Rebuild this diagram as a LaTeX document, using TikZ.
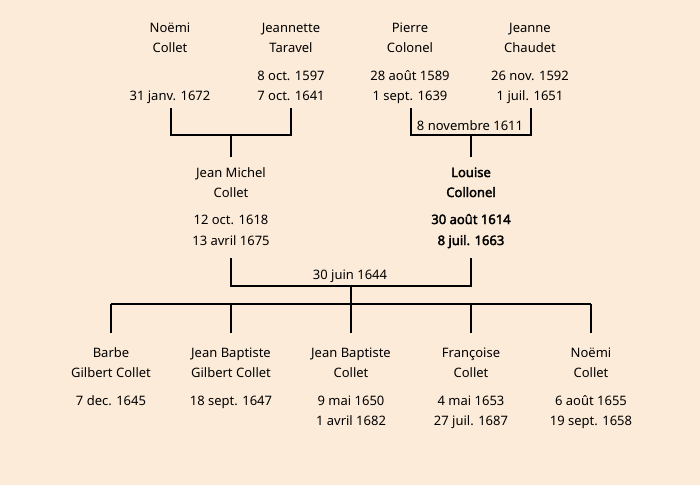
\documentclass[tikz,border=0pt]{standalone}
\usepackage{fontspec}
\setmainfont{Noto Sans}
\newfontfamily\fbold[FakeBold=2.5]{Noto Sans}
\definecolor{bg}{HTML}{FCEBD8}
\begin{document}
\begin{tikzpicture}[x=1pt,y=-1pt,
  txt/.style={anchor=base, inner sep=0pt, font=\fontsize{13}{15}\selectfont},
  btxt/.style={anchor=base, inner sep=0pt, font=\fbold\fontsize{13}{15}\selectfont},
  link/.style={line width=2pt}]
\fill[bg] (0,0) rectangle (700,485);
\useasboundingbox (0,0) rectangle (700,485);
% top generation
\node[txt] (nc1) at (170,32) {Noëmi};
\node[txt] (nc2) at (170,52) {Collet};
\node[txt] (ncd) at (170,100) {31 janv. 1672};
\node[txt] (jt1) at (291,32) {Jeannette};
\node[txt] (jt2) at (291,52) {Taravel};
\node[txt] (jtb) at (291,80) {8 oct. 1597};
\node[txt] (jtd) at (291,100) {7 oct. 1641};
\node[txt] (pc1) at (410,32) {Pierre};
\node[txt] (pc2) at (410,52) {Colonel};
\node[txt] (pcb) at (410,80) {28 août 1589};
\node[txt] (pcd) at (410,100) {1 sept. 1639};
\node[txt] (jc1) at (530,32) {Jeanne};
\node[txt] (jc2) at (530,52) {Chaudet};
\node[txt] (jcb) at (530,80) {26 nov. 1592};
\node[txt] (jcd) at (530,100) {1 juil. 1651};
% middle generation
\node[txt] (jm1) at (231,177) {Jean Michel};
\node[txt] (jm2) at (231,197) {Collet};
\node[txt] (jmb) at (231,224) {12 oct. 1618};
\node[txt] (jmd) at (231,245) {13 avril 1675};
\node[btxt] (lc1) at (471,177) {Louise};
\node[btxt] (lc2) at (471,197) {Collonel};
\node[btxt] (lcb) at (471,224) {30 août 1614};
\node[btxt] (lcd) at (471,245) {8 juil. 1663};
% children
\node[txt] (c11) at (111,357) {Barbe};
\node[txt] (c12) at (111,377) {Gilbert Collet};
\node[txt] (c1b) at (111,405) {7 dec. 1645};
\node[txt] (c21) at (231,357) {Jean Baptiste};
\node[txt] (c22) at (231,377) {Gilbert Collet};
\node[txt] (c2b) at (231,405) {18 sept. 1647};
\node[txt] (c31) at (351,357) {Jean Baptiste};
\node[txt] (c32) at (351,377) {Collet};
\node[txt] (c3b) at (351,405) {9 mai 1650};
\node[txt] (c3d) at (351,425) {1 avril 1682};
\node[txt] (c41) at (471,357) {Françoise};
\node[txt] (c42) at (471,377) {Collet};
\node[txt] (c4b) at (471,405) {4 mai 1653};
\node[txt] (c4d) at (471,425) {27 juil. 1687};
\node[txt] (c51) at (591,357) {Noëmi};
\node[txt] (c52) at (591,377) {Collet};
\node[txt] (c5b) at (591,405) {6 août 1655};
\node[txt] (c5d) at (591,425) {19 sept. 1658};
% marriage labels
\node[txt] (m1) at (470,130) {8 novembre 1611};
\node[txt] (m2) at (350,279) {30 juin 1644};
% coordinates
\coordinate (a1) at (171,108); \coordinate (a2) at (291,108);
\coordinate (ab1) at (171,135); \coordinate (ab2) at (291,135);
\coordinate (am) at (231,135); \coordinate (as) at (231,157);
\coordinate (b1) at (411,108); \coordinate (b2) at (531,108);
\coordinate (bb1) at (411,135); \coordinate (bb2) at (531,135);
\coordinate (bm) at (471,135); \coordinate (bs) at (471,157);
\coordinate (c1) at (231,258); \coordinate (c2) at (471,258);
\coordinate (cb1) at (231,286); \coordinate (cb2) at (471,286);
\coordinate (cm) at (351,286); \coordinate (cs) at (351,304);
\coordinate (k1) at (111,304); \coordinate (k5) at (591,304);
\coordinate (k2) at (231,304); \coordinate (k3) at (351,304); \coordinate (k4) at (471,304);
\coordinate (e1) at (111,333); \coordinate (e2) at (231,333); \coordinate (e3) at (351,333);
\coordinate (e4) at (471,333); \coordinate (e5) at (591,333);
% connectors
\draw[link] (a1) -- (ab1) -- (ab2) -- (a2);
\draw[link] (am) -- (as);
\draw[link] (b1) -- (bb1) -- (bb2) -- (b2);
\draw[link] (bm) -- (bs);
\draw[link] (c1) -- (cb1) -- (cb2) -- (c2);
\draw[link] (cm) -- (cs);
\draw[link] (k1) -- (k5);
\draw[link] (k1) -- (e1);
\draw[link] (k2) -- (e2);
\draw[link] (k3) -- (e3);
\draw[link] (k4) -- (e4);
\draw[link] (k5) -- (e5);
\end{tikzpicture}
\end{document}
